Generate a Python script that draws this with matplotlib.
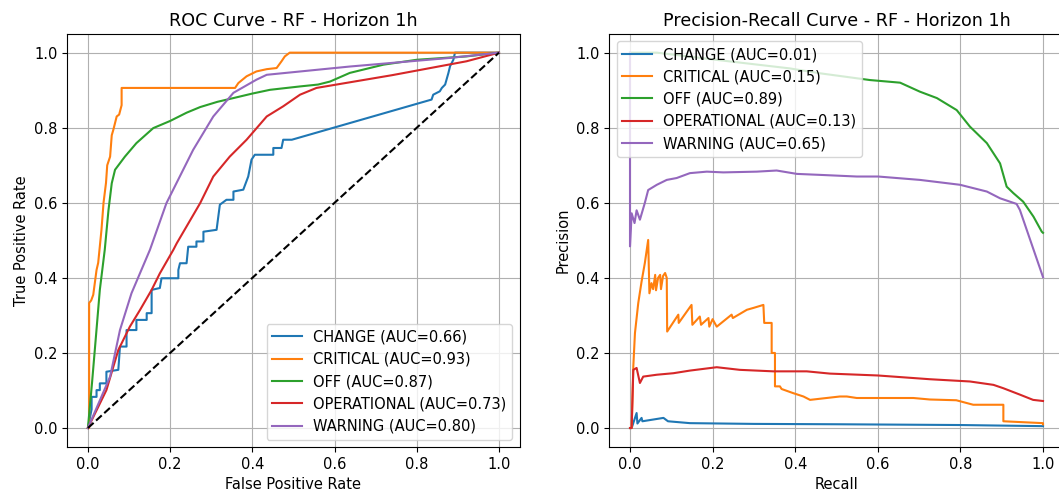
import matplotlib
matplotlib.use("Agg")
import matplotlib.pyplot as plt
import numpy as np

# ------------------------------------------------------------
# Data
# ------------------------------------------------------------

classes = ["CHANGE", "CRITICAL", "OFF", "OPERATIONAL", "WARNING"]
roc_auc = [0.66, 0.93, 0.87, 0.73, 0.80]
pr_auc = [0.01, 0.15, 0.89, 0.13, 0.65]

# ROC: false positive rate / true positive rate
fpr_change = [0.0, 0.009, 0.009, 0.021, 0.021, 0.029, 0.029, 0.045, 0.045, 0.074, 0.078, 0.094,
              0.094, 0.118, 0.118, 0.143, 0.143, 0.155, 0.155, 0.175, 0.179, 0.220, 0.220, 0.224,
              0.240, 0.244, 0.264, 0.264, 0.281, 0.281, 0.313, 0.321, 0.337, 0.354, 0.354, 0.378,
              0.390, 0.398, 0.406, 0.451, 0.451, 0.471, 0.475, 0.496, 0.836, 0.840, 0.856, 0.861,
              0.869, 0.877, 0.881, 0.889, 0.893, 1.0]
tpr_change = [0.0, 0.050, 0.083, 0.083, 0.101, 0.101, 0.119, 0.119, 0.150, 0.155, 0.217, 0.217,
              0.261, 0.261, 0.288, 0.288, 0.306, 0.306, 0.368, 0.373, 0.399, 0.399, 0.421, 0.439,
              0.439, 0.483, 0.483, 0.497, 0.497, 0.523, 0.528, 0.595, 0.608, 0.608, 0.630, 0.635,
              0.670, 0.715, 0.728, 0.728, 0.746, 0.746, 0.768, 0.768, 0.875, 0.888, 0.897, 0.906,
              0.915, 0.946, 0.964, 0.981, 1.0, 1.0]

fpr_critical = [0.0, 0.003, 0.003, 0.008, 0.013, 0.021, 0.025, 0.033, 0.038, 0.044, 0.047, 0.054,
                0.058, 0.062, 0.070, 0.076, 0.082, 0.082, 0.358, 0.366, 0.386, 0.410, 0.435,
                0.459, 0.471, 0.479, 0.491, 1.0]
tpr_critical = [0.0, 0.0, 0.333, 0.340, 0.355, 0.421, 0.440, 0.528, 0.600, 0.653, 0.700, 0.723,
                0.780, 0.795, 0.830, 0.835, 0.860, 0.906, 0.906, 0.919, 0.937, 0.950, 0.956,
                0.959, 0.977, 0.990, 1.0, 1.0]

fpr_off = [0.0, 0.010, 0.020, 0.029, 0.041, 0.050, 0.058, 0.066, 0.090, 0.118, 0.159, 0.200,
           0.240, 0.273, 0.315, 0.354, 0.400, 0.443, 0.516, 0.560, 0.589, 0.637, 0.719, 0.800,
           0.921, 1.0]
tpr_off = [0.0, 0.120, 0.250, 0.368, 0.475, 0.580, 0.652, 0.688, 0.723, 0.759, 0.799, 0.818,
           0.840, 0.855, 0.869, 0.879, 0.891, 0.901, 0.910, 0.915, 0.923, 0.946, 0.968, 0.981,
           0.990, 1.0]

fpr_operational = [0.0, 0.045, 0.074, 0.102, 0.127, 0.155, 0.175, 0.208, 0.216, 0.240, 0.273,
                   0.305, 0.345, 0.386, 0.435, 0.475, 0.516, 0.556, 0.740, 0.921, 1.0]
tpr_operational = [0.0, 0.101, 0.208, 0.270, 0.315, 0.368, 0.412, 0.475, 0.492, 0.537, 0.599,
                   0.670, 0.723, 0.768, 0.830, 0.857, 0.888, 0.906, 0.940, 0.977, 1.0]

fpr_warning = [0.0, 0.054, 0.078, 0.106, 0.151, 0.191, 0.256, 0.305, 0.354, 0.410, 0.435,
               0.637, 0.881, 1.0]
tpr_warning = [0.0, 0.137, 0.261, 0.359, 0.475, 0.599, 0.741, 0.830, 0.893, 0.928, 0.941,
               0.963, 0.986, 1.0]

# Precision-Recall: recall / precision
rec_change = [0.0, 0.004, 0.016, 0.018, 0.028, 0.030, 0.081, 0.092, 0.145, 0.300, 0.508, 0.800, 1.0]
prec_change = [0.0, 0.0, 0.040, 0.012, 0.027, 0.018, 0.027, 0.018, 0.013, 0.011, 0.010, 0.008, 0.005]

rec_critical = [0.0, 0.004, 0.008, 0.012, 0.020, 0.028, 0.036, 0.044, 0.047, 0.052, 0.056, 0.061,
                0.063, 0.068, 0.073, 0.075, 0.080, 0.085, 0.089, 0.090, 0.117, 0.118, 0.149,
                0.151, 0.169, 0.172, 0.190, 0.192, 0.200, 0.210, 0.246, 0.249, 0.283, 0.299,
                0.323, 0.325, 0.335, 0.343, 0.343, 0.351, 0.351, 0.363, 0.367, 0.395, 0.420,
                0.436, 0.508, 0.525, 0.549, 0.606, 0.686, 0.726, 0.790, 0.831, 0.904, 0.904,
                1.0, 1.0]
prec_critical = [0.0, 0.0, 0.164, 0.253, 0.333, 0.390, 0.440, 0.501, 0.359, 0.386, 0.370, 0.408,
                 0.367, 0.400, 0.408, 0.370, 0.405, 0.413, 0.400, 0.257, 0.302, 0.280, 0.328,
                 0.275, 0.297, 0.275, 0.293, 0.270, 0.290, 0.270, 0.302, 0.293, 0.315, 0.320,
                 0.328, 0.280, 0.280, 0.280, 0.200, 0.200, 0.111, 0.111, 0.104, 0.093, 0.084,
                 0.075, 0.084, 0.084, 0.080, 0.080, 0.080, 0.076, 0.074, 0.062, 0.062, 0.018,
                 0.013, 0.010]

rec_off = [0.0, 0.065, 0.200, 0.387, 0.460, 0.581, 0.654, 0.702, 0.743, 0.791, 0.823, 0.864,
           0.896, 0.912, 0.928, 0.952, 0.977, 0.997, 1.0]
prec_off = [1.0, 1.0, 0.982, 0.958, 0.945, 0.927, 0.920, 0.896, 0.879, 0.847, 0.803, 0.759,
            0.705, 0.643, 0.626, 0.603, 0.563, 0.523, 0.520]

rec_operational = [0.0, 0.004, 0.008, 0.016, 0.024, 0.032, 0.065, 0.105, 0.145, 0.210, 0.266,
                   0.347, 0.428, 0.484, 0.600, 0.726, 0.823, 0.880, 0.904, 0.944, 0.976, 1.0]
prec_operational = [0.0, 0.0, 0.155, 0.160, 0.120, 0.137, 0.142, 0.146, 0.153, 0.162, 0.155,
                    0.151, 0.151, 0.145, 0.140, 0.130, 0.124, 0.115, 0.106, 0.089, 0.075, 0.072]

rec_warning = [0.0, 0.0, 0.004, 0.011, 0.016, 0.024, 0.036, 0.044, 0.065, 0.089, 0.113, 0.145,
               0.186, 0.226, 0.307, 0.355, 0.404, 0.468, 0.549, 0.601, 0.702, 0.799, 0.864,
               0.896, 0.936, 0.944, 1.0]
prec_warning = [1.0, 0.484, 0.572, 0.546, 0.580, 0.555, 0.600, 0.634, 0.648, 0.661, 0.666, 0.679,
                0.683, 0.681, 0.683, 0.686, 0.677, 0.674, 0.670, 0.670, 0.661, 0.648, 0.630,
                0.612, 0.597, 0.581, 0.402]

roc_x = [fpr_change, fpr_critical, fpr_off, fpr_operational, fpr_warning]
roc_y = [tpr_change, tpr_critical, tpr_off, tpr_operational, tpr_warning]
pr_x = [rec_change, rec_critical, rec_off, rec_operational, rec_warning]
pr_y = [prec_change, prec_critical, prec_off, prec_operational, prec_warning]

# ------------------------------------------------------------
# Plot
# ------------------------------------------------------------

plt.rcParams["font.size"] = 10.5
plt.rcParams["axes.titlesize"] = 12.6

fig = plt.figure(figsize=(10.59, 4.96), dpi=100)
ax1 = fig.add_axes([0.0636, 0.0992, 0.427, 0.8325])
ax2 = fig.add_axes([0.5754, 0.0992, 0.429, 0.8325])

for name, auc, x, y in zip(classes, roc_auc, roc_x, roc_y):
    ax1.plot(x, y, label=f"{name} (AUC={auc:.2f})")
ax1.plot([0, 1], [0, 1], "k--")
ax1.set_xlabel("False Positive Rate")
ax1.set_ylabel("True Positive Rate")
ax1.set_title("ROC Curve - RF - Horizon 1h")
ax1.legend(loc="lower right")
ax1.grid(True)

for name, auc, x, y in zip(classes, pr_auc, pr_x, pr_y):
    ax2.plot(x, y, label=f"{name} (AUC={auc:.2f})")
ax2.set_xlabel("Recall")
ax2.set_ylabel("Precision")
ax2.set_title("Precision-Recall Curve - RF - Horizon 1h")
ax2.legend(loc="upper left")
ax2.grid(True)

fig.savefig("out.png", dpi=100)
